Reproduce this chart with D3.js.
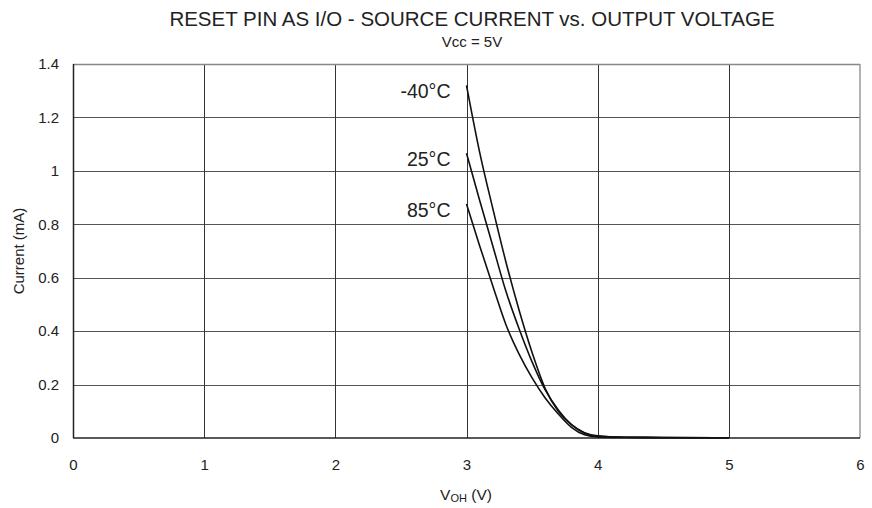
<!DOCTYPE html>
<html>
<head>
<meta charset="utf-8">
<script src="https://cdn.jsdelivr.net/npm/d3@7"></script>
<style>
  body { margin: 0; background: #fff; }
  text { font-family: "Liberation Sans", Arial, sans-serif; fill: #222; }
</style>
</head>
<body>
<div id="svg_area"></div>
<script>
// Data
var xTicks = [0, 1, 2, 3, 4, 5, 6];
var yTicks = [0, 0.2, 0.4, 0.6, 0.8, 1, 1.2, 1.4];
var voltage = [3.0, 3.1, 3.2, 3.3, 3.4, 3.5, 3.6, 3.7, 3.8, 3.9, 4.0, 4.2, 4.5, 5.0];
var currentM40 = [1.32, 1.07, 0.86, 0.66, 0.48, 0.32, 0.185, 0.10, 0.05, 0.02, 0.008, 0.003, 0.002, 0.001];
var current25 = [1.066, 0.89, 0.72, 0.55, 0.41, 0.285, 0.18, 0.105, 0.05, 0.018, 0.006, 0.003, 0.002, 0.001];
var current85 = [0.876, 0.72, 0.57, 0.425, 0.315, 0.225, 0.15, 0.09, 0.04, 0.012, 0.004, 0.002, 0.001, 0.001];
var curveLabels = ["-40°C", "25°C", "85°C"];

var svgWidth = 872;
var svgHeight = 508;

var margin = {top: 64, right: 12, bottom: 70, left: 73};
var chartWidth = 860 - margin.left;
var chartHeight = 438 - margin.top;

var svg = d3.select("#svg_area")
  .append("svg")
  .attr("width", svgWidth)
  .attr("height", svgHeight);

var chartGroup = svg.append("g")
  .attr("transform", `translate(${margin.left}, ${margin.top})`);

var xScale = d3.scaleLinear().domain([0, 6]).range([0, chartWidth]);
var yScale = d3.scaleLinear().domain([0, 1.4]).range([chartHeight, 0]);

// horizontal grid
chartGroup.selectAll(".hgrid")
  .data(yTicks.slice(1, -1))
  .enter()
  .append("line")
  .attr("x1", 0)
  .attr("x2", chartWidth)
  .attr("y1", d => Math.round(yScale(d)) + 0.5)
  .attr("y2", d => Math.round(yScale(d)) + 0.5)
  .attr("stroke", "#555")
  .attr("stroke-width", 1);

// vertical grid
chartGroup.selectAll(".vgrid")
  .data(xTicks.slice(1, -1))
  .enter()
  .append("line")
  .attr("x1", d => Math.round(xScale(d)) + 0.5)
  .attr("x2", d => Math.round(xScale(d)) + 0.5)
  .attr("y1", 0)
  .attr("y2", chartHeight)
  .attr("stroke", "#333")
  .attr("stroke-width", 1);

// frame: top/right grey, left/bottom dark
chartGroup.append("line")
  .attr("x1", 0).attr("x2", chartWidth).attr("y1", 0.5).attr("y2", 0.5)
  .attr("stroke", "#888").attr("stroke-width", 1.5);
chartGroup.append("line")
  .attr("x1", chartWidth).attr("x2", chartWidth).attr("y1", 0).attr("y2", chartHeight)
  .attr("stroke", "#999").attr("stroke-width", 1.5);
chartGroup.append("line")
  .attr("x1", 0.5).attr("x2", 0.5).attr("y1", 0).attr("y2", chartHeight)
  .attr("stroke", "#222").attr("stroke-width", 1.5);
chartGroup.append("line")
  .attr("x1", 0).attr("x2", chartWidth).attr("y1", chartHeight).attr("y2", chartHeight)
  .attr("stroke", "#222").attr("stroke-width", 1.5);

// axes (labels only)
var bottomAxis = d3.axisBottom(xScale).tickValues(xTicks).tickSize(0).tickPadding(21).tickFormat(d3.format("d"));
var leftAxis = d3.axisLeft(yScale).tickValues(yTicks).tickSize(0).tickPadding(14).tickFormat(d => d);

var xAxisG = chartGroup.append("g")
  .attr("transform", "translate(0, " + chartHeight + ")")
  .call(bottomAxis);
var yAxisG = chartGroup.append("g").call(leftAxis);
[xAxisG, yAxisG].forEach(function(g) {
  g.select(".domain").remove();
  g.selectAll("text")
    .attr("font-size", "15px")
    .attr("font-family", "Liberation Sans, Arial, sans-serif")
    .attr("fill", "#222");
});

// curves
var line = d3.line()
  .x(d => xScale(d[0]))
  .y(d => yScale(d[1]))
  .curve(d3.curveMonotoneX);

var series = [currentM40, current25, current85];
series.forEach(function(values, i) {
  var pts = voltage.map((v, j) => [v, values[j]]);
  chartGroup.append("path")
    .datum(pts)
    .attr("d", line)
    .attr("fill", "none")
    .attr("stroke", "#111")
    .attr("stroke-width", 1.6);

  chartGroup.append("text")
    .attr("x", xScale(voltage[0]) - 16)
    .attr("y", yScale(values[0]) + 13)
    .attr("text-anchor", "end")
    .attr("font-size", "19.5px")
    .text(curveLabels[i]);
});

// titles
svg.append("text")
  .attr("x", 472)
  .attr("y", 26)
  .attr("text-anchor", "middle")
  .attr("font-size", "20.5px")
  .text("RESET PIN AS I/O - SOURCE CURRENT vs. OUTPUT VOLTAGE");

svg.append("text")
  .attr("x", 472)
  .attr("y", 47)
  .attr("text-anchor", "middle")
  .attr("font-size", "15px")
  .text("Vcc = 5V");

// axis labels
var xLabel = svg.append("text")
  .attr("x", 466)
  .attr("y", 500)
  .attr("text-anchor", "middle")
  .attr("font-size", "15.5px");
xLabel.append("tspan").text("V");
xLabel.append("tspan").attr("font-size", "11px").attr("dy", 2).text("OH");
xLabel.append("tspan").attr("dy", -2).text(" (V)");

svg.append("text")
  .attr("transform", "rotate(-90)")
  .attr("x", -251)
  .attr("y", 24)
  .attr("text-anchor", "middle")
  .attr("font-size", "15px")
  .text("Current (mA)");
</script>
</body>
</html>
